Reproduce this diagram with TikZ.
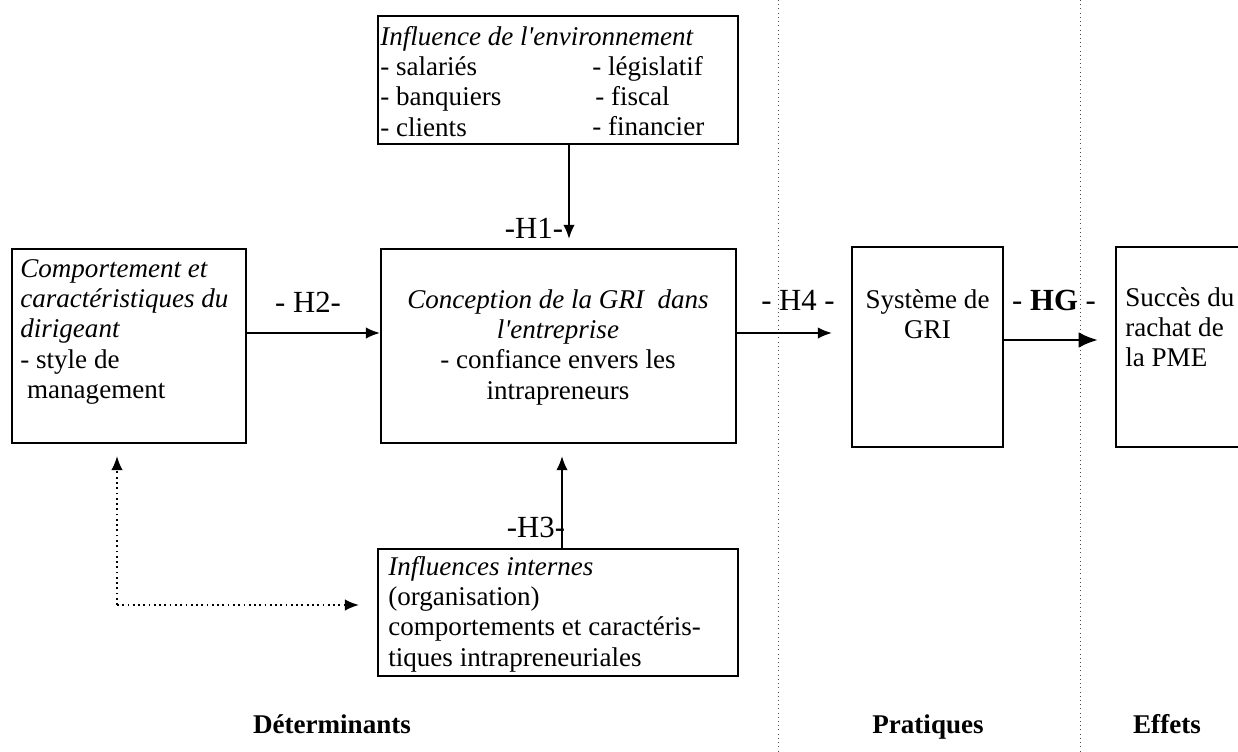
\documentclass[tikz,border=0pt]{standalone}
\usepackage{fontspec}
\setmainfont{Liberation Serif}
\usetikzlibrary{arrows.meta}

\begin{document}
\begin{tikzpicture}[x=0.02cm, y=-0.02cm,
    boite/.style={draw, line width=1.2pt, inner sep=0pt},
    texte/.style={inner sep=0pt, align=left, font=\fontsize{15.4}{17.2}\selectfont},
    etiq/.style={inner sep=0pt, font=\fontsize{17.5}{20}\selectfont},
    titre/.style={inner sep=0pt, anchor=base, font=\fontsize{15.4}{17.2}\selectfont\bfseries},
    fleche/.style={line width=1.1pt, -{Latex[length=8pt, width=6.5pt]}},
    pointille/.style={line width=1pt, dotted, -{Latex[length=8pt, width=6.5pt]}},
    separateur/.style={line width=0.4pt, dotted, black!70}]
    \path[use as bounding box, clip] (0,0) rectangle (1238,751);

    % separateurs
    \draw[separateur] (778,0) -- (778,751);
    \draw[separateur] (1080,0) -- (1080,751);

    % boites
    \node[boite, minimum width=7.2cm, minimum height=2.56cm] (env) at (558,80) {};
    \node[boite, minimum width=4.68cm, minimum height=3.88cm] (dir) at (129,346) {};
    \node[boite, minimum width=7.1cm, minimum height=3.88cm] (concep) at (558.5,346) {};
    \node[boite, minimum width=7.2cm, minimum height=2.54cm] (interne) at (558,612.5) {};
    \node[boite, minimum width=3.02cm, minimum height=4cm] (sys) at (927.5,347) {};
    \node[boite, minimum width=2.88cm, minimum height=4cm] (rachat) at (1188,347) {};

    % textes
    \node[texte, anchor=north west] (envtxt) at (380,24)
        {\strut\textit{Influence de l\textquotesingle environnement}\\- salariés\\- banquiers\\- clients};
    \node[texte, anchor=north west] (envtxtb) at (592,54)
        {\strut- législatif\\\hspace{1.7pt}- fiscal\\- financier};
    \node[texte, anchor=north west] (dirtxt) at (20,256)
        {\strut\textit{Comportement et}\\\textit{caractéristiques du}\\\textit{dirigeant}\\- style de\\\hspace{0.25em}management};
    \node[texte, align=center, anchor=north] (conceptxt) at (558,287)
        {\strut\textit{Conception de la GRI\ \ dans}\\\textit{l\textquotesingle entreprise}\\- confiance envers les\\intrapreneurs};
    \node[texte, anchor=north west] (internetxt) at (388,554)
        {\strut\textit{Influences internes}\\(organisation)\\comportements et caractéris-\\tiques intrapreneuriales};
    \node[texte, align=center, anchor=north] (systxt) at (927.5,287)
        {\strut Système de\\GRI};
    \node[texte, anchor=north west] (rachattxt) at (1125,285)
        {\strut Succès du\\rachat de\\la PME};

    % fleches
    \draw[fleche, shorten >=0.18cm] ([xshift=0.22cm]env.south) -- ([xshift=0.22cm]env.south |- concep.north);
    \draw[fleche] ([yshift=0.26cm]dir.east) -- ([yshift=0.26cm]dir.east -| concep.west);
    \draw[fleche, shorten >=0.24cm] ([xshift=0.08cm]interne.north) -- ([xshift=0.08cm]interne.north |- concep.south);
    \draw[fleche, shorten >=0.38cm] ([yshift=0.26cm]concep.east) -- ([yshift=0.26cm]concep.east -| sys.west);
    \draw[fleche, line width=1.6pt, -{Latex[length=11pt, width=9pt]}, shorten >=0.34cm]
        ([yshift=0.14cm]sys.east) -- ([yshift=0.14cm]sys.east -| rachat.west);
    \coordinate (coin) at (117,605);
    \draw[pointille, shorten >=0.24cm] (coin) -- (coin |- dir.south);
    \draw[pointille, shorten >=0.36cm] (coin) -- (coin -| interne.west);

    % hypotheses
    \node[etiq] (h1) at (534,228) {-H1-};
    \node[etiq] (h2) at (308,302) {- H2-};
    \node[etiq] (h3) at (536,527) {-H3-};
    \node[etiq] (h4) at (798,300) {- H4 -};
    \node[etiq] (hg) at (1054,300) {- \textbf{HG} -};

    % titres
    \node[titre] (determ) at (332,733) {Déterminants};
    \node[titre] (prat) at (928,733) {Pratiques};
    \node[titre] (effets) at (1167,733) {Effets};
\end{tikzpicture}
\end{document}
